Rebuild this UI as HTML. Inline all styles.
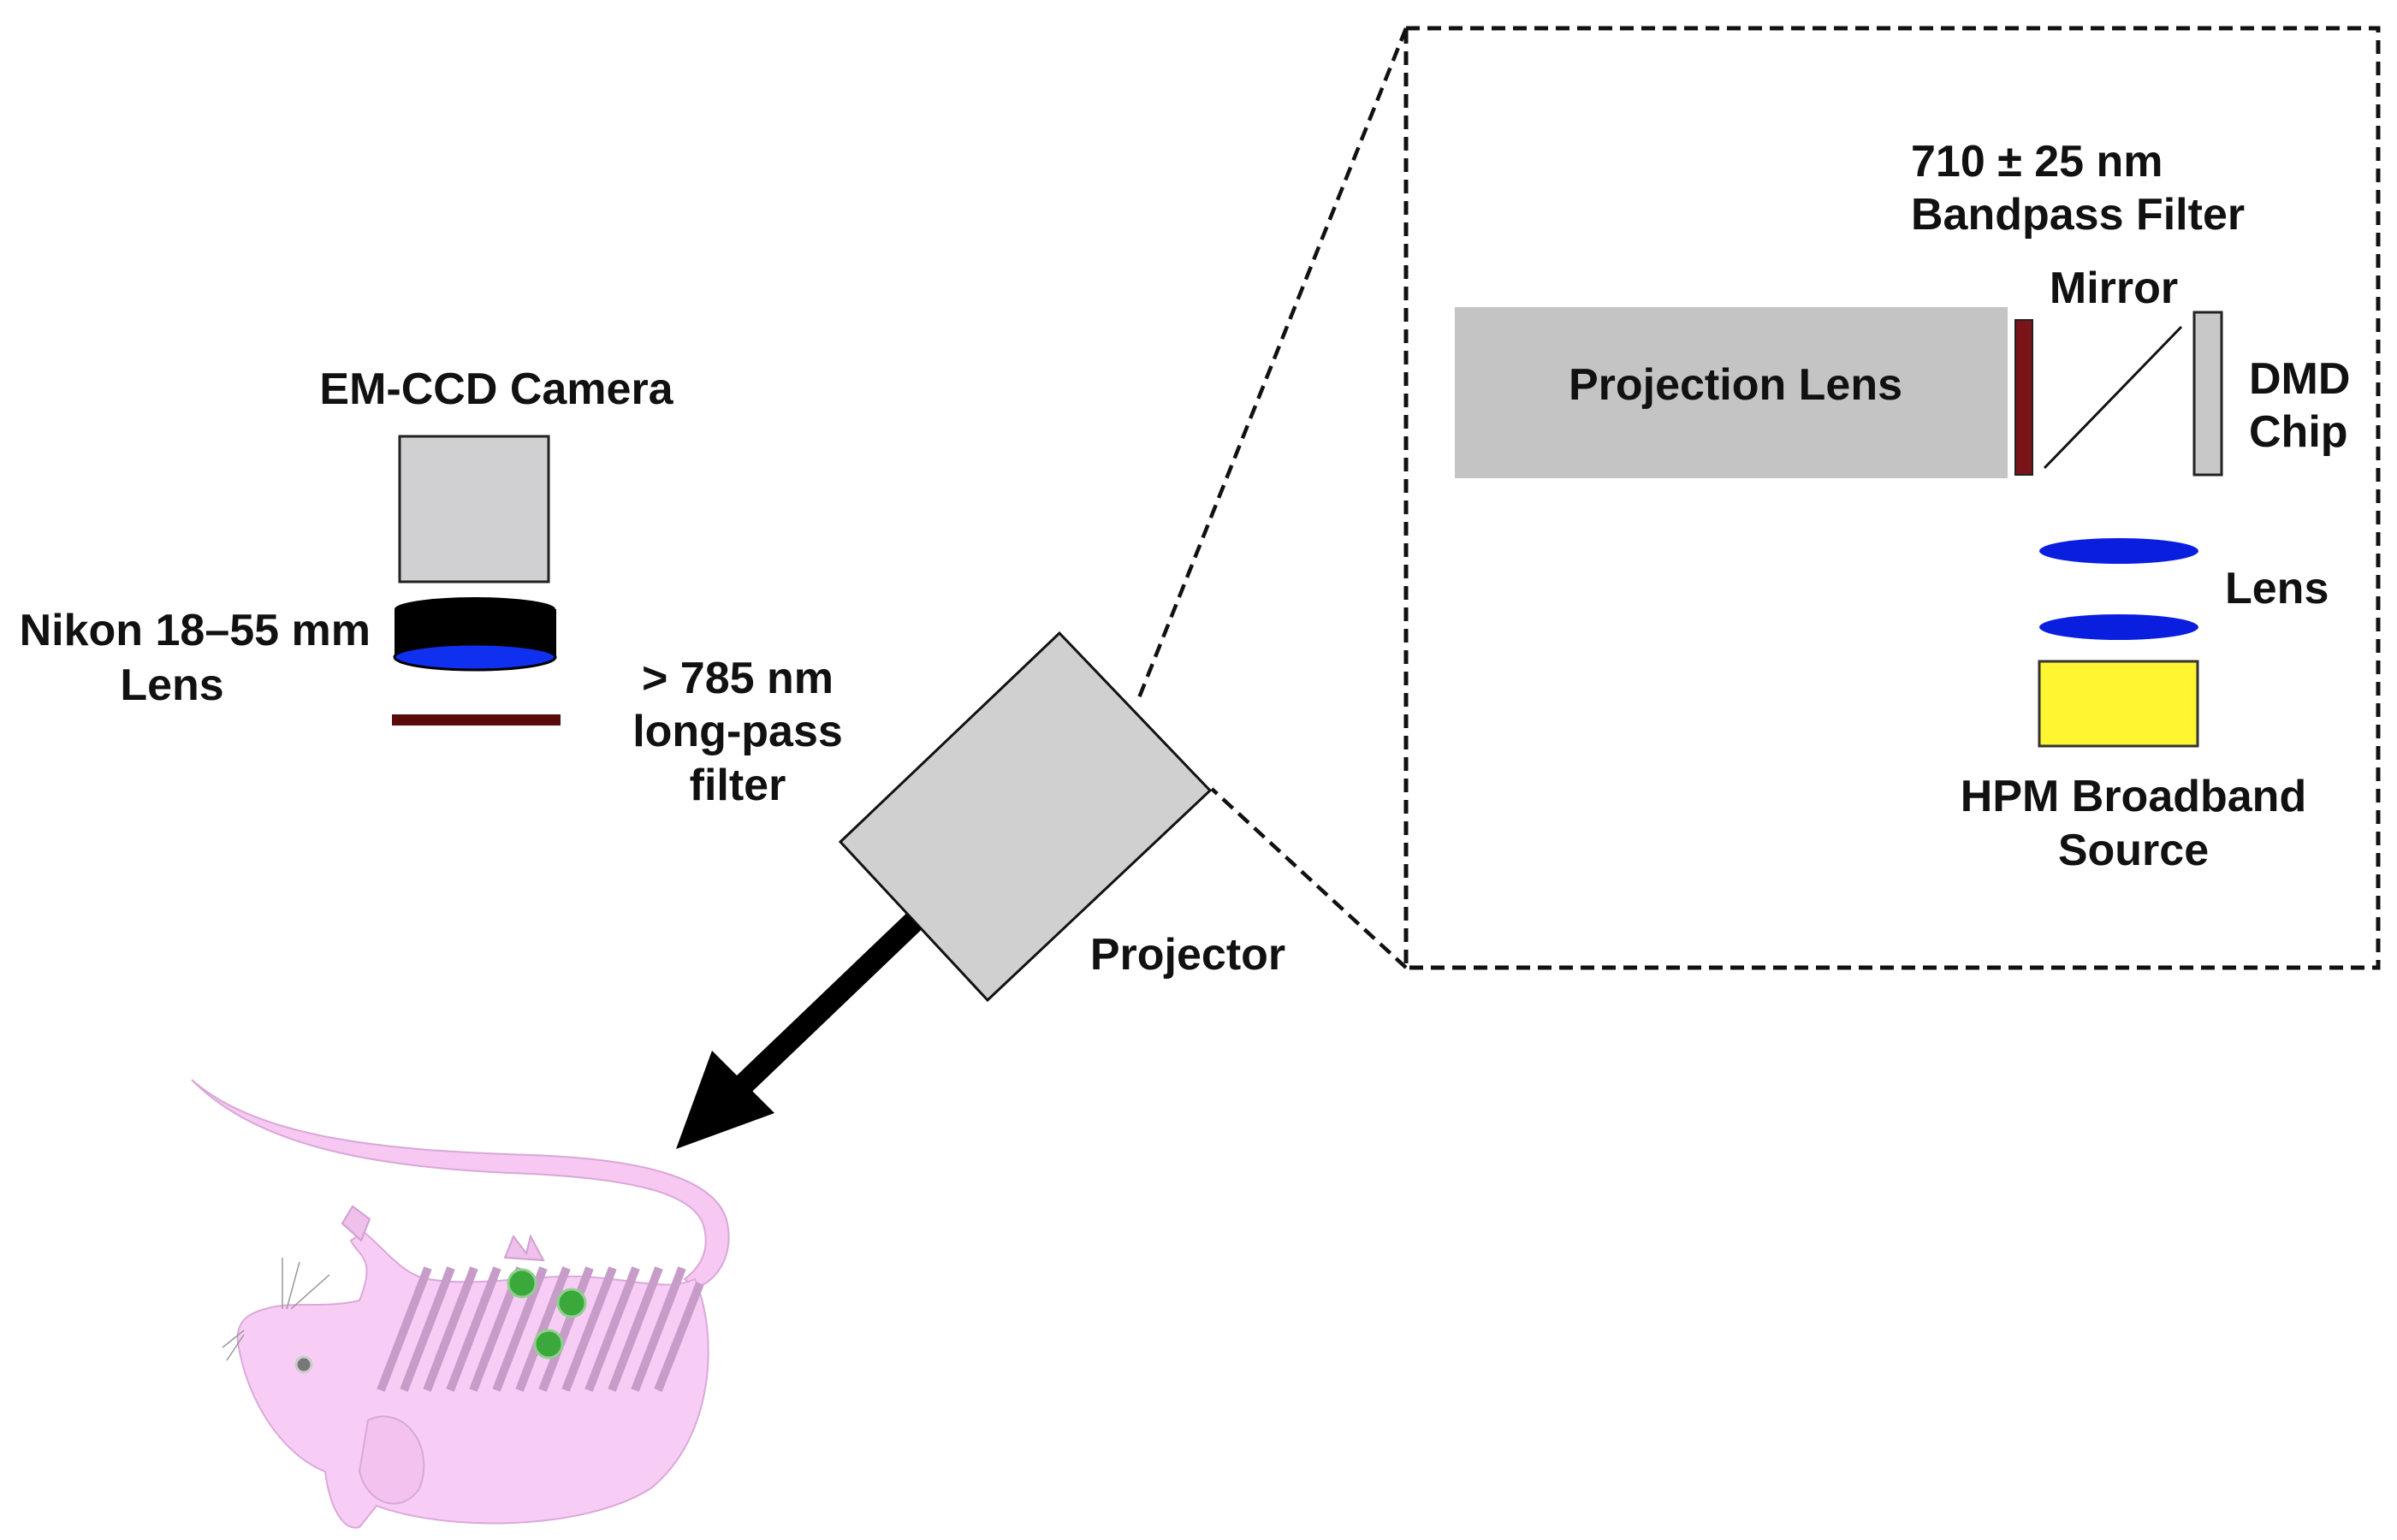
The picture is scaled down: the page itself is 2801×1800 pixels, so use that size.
<!DOCTYPE html>
<html><head><meta charset="utf-8"><style>
html,body{margin:0;padding:0;background:#fff}
svg{display:block}
text{font-family:"Liberation Sans",Arial,sans-serif;font-weight:bold;fill:#111}
</style></head><body>
<svg width="2801" height="1800" viewBox="0 0 2801 1800" xmlns="http://www.w3.org/2000/svg">
<rect x="1643" y="33" width="1136" height="1098" fill="none" stroke="#111" stroke-width="5" stroke-dasharray="16,9"/>
<line x1="1643" y1="33" x2="1330" y2="818" stroke="#111" stroke-width="4.5" stroke-dasharray="16,9"/>
<line x1="1643" y1="1131" x2="1416" y2="922" stroke="#111" stroke-width="4.5" stroke-dasharray="16,9"/>

<rect x="1700" y="359" width="646" height="200" fill="#c4c4c4"/>
<text x="2028" y="467" font-size="52" text-anchor="middle">Projection Lens</text>
<rect x="2355" y="374" width="20" height="181" fill="#7b1418" stroke="#222" stroke-width="2"/>
<line x1="2389" y1="547" x2="2549" y2="382" stroke="#111" stroke-width="3"/>
<rect x="2564" y="365" width="32" height="190" fill="#c8c8c8" stroke="#222" stroke-width="3"/>
<text x="2628" y="460" font-size="52">DMD</text>
<text x="2628" y="522" font-size="52">Chip</text>
<text x="2470" y="354" font-size="52" text-anchor="middle">Mirror</text>
<text x="2233" y="206" font-size="52">710 ± 25 nm</text>
<text x="2233" y="268" font-size="52">Bandpass Filter</text>
<ellipse cx="2476" cy="644" rx="93" ry="15" fill="#0a1ee0"/>
<ellipse cx="2476" cy="733" rx="93" ry="15" fill="#0a1ee0"/>
<text x="2600" y="705" font-size="52">Lens</text>
<rect x="2383" y="773" width="185" height="99" fill="#fff530" stroke="#333" stroke-width="3"/>
<text x="2493" y="948" font-size="52" text-anchor="middle">HPM Broadband</text>
<text x="2493" y="1011" font-size="52" text-anchor="middle">Source</text>

<polygon points="1238,740 1414,924 1154,1169 982,984" fill="#d0d0d0" stroke="#111" stroke-width="3"/>
<text x="1388" y="1133" font-size="52" text-anchor="middle">Projector</text>
<line x1="1068" y1="1077" x2="860" y2="1276" stroke="#000" stroke-width="26"/>
<polygon points="790,1343 832,1228 905,1301" fill="#000"/>

<text x="580" y="472" font-size="52" text-anchor="middle">EM-CCD Camera</text>
<rect x="467" y="510" width="174" height="170" fill="#d0d0d2" stroke="#222" stroke-width="3"/>
<rect x="461" y="712" width="189" height="56" fill="#000"/>
<ellipse cx="555" cy="712" rx="94" ry="14" fill="#000"/>
<ellipse cx="555" cy="768" rx="94" ry="15" fill="#1030f0" stroke="#000" stroke-width="3"/>
<rect x="458" y="835" width="197" height="13" fill="#5a0a0a"/>
<text x="433" y="754" font-size="52" text-anchor="end">Nikon 18–55 mm</text>
<text x="201" y="818" font-size="52" text-anchor="middle">Lens</text>
<text x="862" y="810" font-size="52" text-anchor="middle">&gt; 785 nm</text>
<text x="862" y="872" font-size="52" text-anchor="middle">long-pass</text>
<text x="862" y="935" font-size="52" text-anchor="middle">filter</text>

<path d="M224,1262 C300,1330 450,1345 620,1350 C760,1355 840,1380 850,1430 C858,1470 835,1500 812,1505 L800,1495 C820,1480 830,1460 822,1432 C810,1395 740,1378 620,1372 C440,1366 300,1340 224,1262 Z" fill="#f6c8f2" stroke="#d8a8d8" stroke-width="2"/>
<path d="M812,1495 C840,1560 835,1680 760,1740 C680,1790 520,1790 440,1760 L420,1785 C400,1790 385,1760 380,1720 C330,1700 290,1640 278,1570 C275,1545 290,1535 310,1530 C340,1520 380,1530 420,1520 C440,1470 420,1470 410,1450 L425,1440 C450,1460 470,1490 500,1495 C560,1505 620,1490 680,1492 C740,1495 780,1510 812,1495 Z" fill="#f8cdf5" stroke="#dba8db" stroke-width="2"/>
<path d="M400,1430 l12,-20 l20,15 l-10,25 Z M590,1470 l10,-25 l15,20 l5,-20 l15,28 Z" fill="#f0c0ec" stroke="#d0a0d0" stroke-width="2"/>
<g stroke="#c79cc8" stroke-width="10">
<line x1="445" y1="1625" x2="500" y2="1482"/><line x1="472" y1="1625" x2="527" y2="1482"/>
<line x1="499" y1="1625" x2="554" y2="1482"/><line x1="526" y1="1625" x2="581" y2="1482"/>
<line x1="553" y1="1625" x2="608" y2="1482"/><line x1="580" y1="1625" x2="635" y2="1482"/>
<line x1="607" y1="1625" x2="662" y2="1482"/><line x1="634" y1="1625" x2="689" y2="1482"/>
<line x1="661" y1="1625" x2="716" y2="1482"/><line x1="688" y1="1625" x2="743" y2="1482"/>
<line x1="715" y1="1625" x2="770" y2="1482"/><line x1="742" y1="1625" x2="797" y2="1482"/>
<line x1="769" y1="1625" x2="818" y2="1500"/>
</g>
<g fill="#3aa83a" stroke="#8fd08f" stroke-width="3">
<circle cx="610" cy="1500" r="16"/><circle cx="668" cy="1523" r="16"/><circle cx="641" cy="1571" r="16"/>
</g>
<circle cx="355" cy="1595" r="9" fill="#777" stroke="#ccc" stroke-width="3"/>
<path d="M430,1660 C470,1640 510,1690 490,1740 C470,1770 430,1760 420,1720 Z" fill="#f3c2ef" stroke="#d8a8d8" stroke-width="2"/>
<g stroke="#999" stroke-width="1.5">
<line x1="330" y1="1530" x2="330" y2="1470"/><line x1="335" y1="1530" x2="350" y2="1475"/><line x1="340" y1="1530" x2="385" y2="1490"/>
<line x1="285" y1="1555" x2="260" y2="1575"/><line x1="285" y1="1560" x2="265" y2="1590"/>
</g>
</svg>
</body></html>
